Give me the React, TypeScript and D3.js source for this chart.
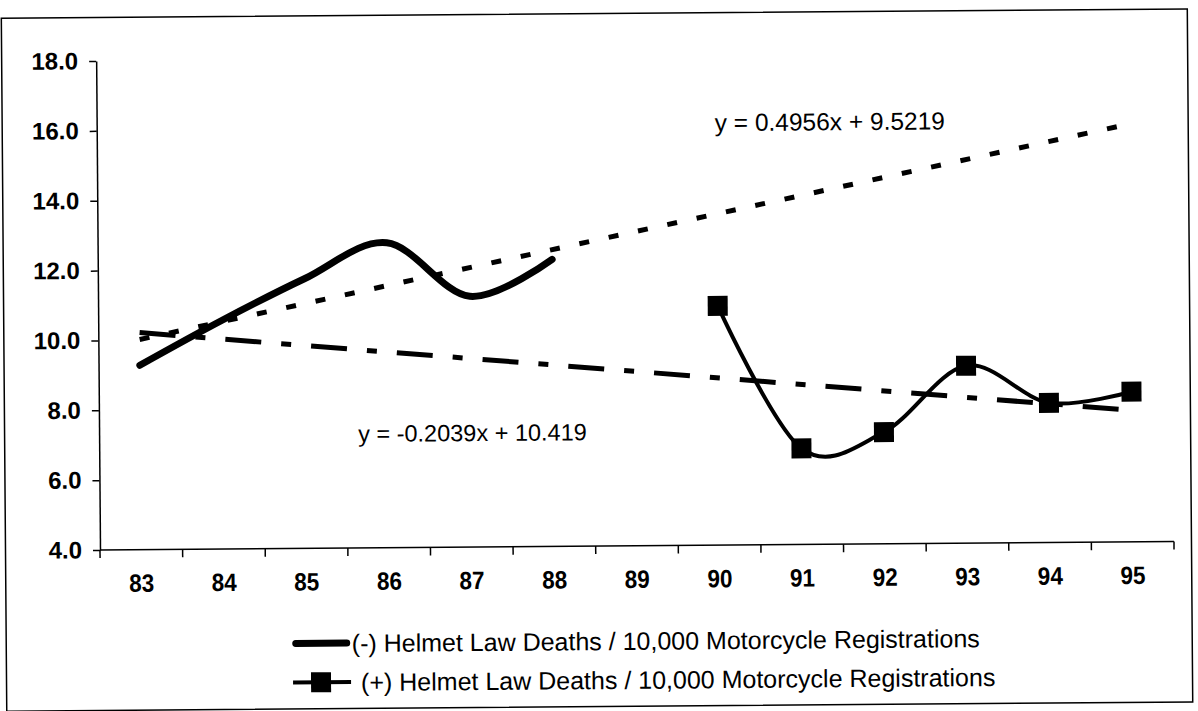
import React, { useEffect, useRef } from 'react';
import * as d3 from 'd3';

// categories (model years) and series values
const years = ['83', '84', '85', '86', '87', '88', '89', '90', '91', '92', '93', '94', '95'];
const noLawYears = ['83', '84', '85', '86', '87', '88'];
const noLawRate = [9.28, 10.55, 11.72, 12.73, 11.18, 12.22];
const lawYears = ['90', '91', '92', '93', '94', '95'];
const lawRate = [10.85, 6.75, 7.2, 9.08, 8.0, 8.3];
const yTicks = [4, 6, 8, 10, 12, 14, 16, 18];

// trendline equations printed on the chart (x = category index 1..13)
const noLawTrend = { slope: 0.4956, intercept: 9.5219 };
const lawTrend = { slope: -0.2039, intercept: 10.419 };
const noLawEq = 'y = 0.4956x + 9.5219';
const lawEq = 'y = -0.2039x + 10.419';

const legendLabels = [
  '(-) Helmet Law Deaths / 10,000 Motorcycle Registrations',
  '(+) Helmet Law Deaths / 10,000 Motorcycle Registrations',
];

const FONT = '"Liberation Sans", Arial, sans-serif';

export default function App() {
  const svgRef = useRef<SVGSVGElement>(null);

  useEffect(() => {
    const svg = d3.select(svgRef.current);
    svg.selectAll('*').remove();

    const width = 1198;
    const height = 711;
    const margin = { t: 61, r: 24, l: 100, b: 161 };

    svg.append('rect').attr('width', width).attr('height', height).attr('fill', '#fff');

    // the scanned page is slightly tilted
    const g = svg.append('g').attr('transform', 'rotate(-0.45 100 550)');

    g.append('rect')
      .attr('x', 5.5)
      .attr('y', 17.5)
      .attr('width', 1186)
      .attr('height', 693)
      .attr('fill', 'none')
      .attr('stroke', '#000')
      .attr('stroke-width', 1.5);

    const x = d3.scaleBand<string>().domain(years).range([margin.l, width - margin.r]);
    const y = d3.scaleLinear().domain([4, 18]).range([height - margin.b, margin.t]);
    const cx = (d: string) => (x(d) as number) + x.bandwidth() / 2;
    const y0 = y(4);

    // y axis
    const yAxis = d3
      .axisLeft(y)
      .tickValues(yTicks)
      .tickFormat(d3.format('.1f'))
      .tickSizeInner(7)
      .tickSizeOuter(0)
      .tickPadding(11);
    const yg = g.append('g').attr('transform', `translate(${margin.l},0)`).call(yAxis);
    yg.select('.domain').attr('stroke', '#000').attr('stroke-width', 1.5);
    yg.selectAll('.tick line').attr('stroke', '#000').attr('stroke-width', 1.5);
    yg.selectAll('.tick text')
      .attr('fill', '#000')
      .style('font-family', FONT)
      .style('font-size', '24px')
      .style('font-weight', 'bold');

    // x axis: ticks between categories
    const xg = g.append('g');
    xg.append('line')
      .attr('x1', x.range()[0])
      .attr('x2', x.range()[1])
      .attr('y1', y0)
      .attr('y2', y0)
      .attr('stroke', '#000')
      .attr('stroke-width', 1.5);
    const edges = years.map((d) => x(d) as number).concat([x.range()[1]]);
    xg.selectAll('line.tk')
      .data(edges)
      .enter()
      .append('line')
      .attr('class', 'tk')
      .attr('x1', (d) => d)
      .attr('x2', (d) => d)
      .attr('y1', y0)
      .attr('y2', y0 + 8)
      .attr('stroke', '#000')
      .attr('stroke-width', 1.5);
    // labels are a bit condensed in the original
    xg.selectAll('text')
      .data(years)
      .enter()
      .append('text')
      .attr('transform', (d) => `translate(${cx(d)},${y0 + 42}) scale(0.9,1)`)
      .attr('text-anchor', 'middle')
      .style('font-family', FONT)
      .style('font-size', '25px')
      .style('font-weight', 'bold')
      .text((d) => d);

    // trendlines
    const ends = [1, years.length];
    const trendX = (i: number) => cx(years[i - 1]);
    g.append('path')
      .attr('d', d3.line<number>().x(trendX).y((i) => y(noLawTrend.slope * i + noLawTrend.intercept))(ends))
      .attr('fill', 'none')
      .attr('stroke', '#000')
      .attr('stroke-width', 5)
      .attr('stroke-dasharray', '10,20');
    g.append('path')
      .attr('d', d3.line<number>().x(trendX).y((i) => y(lawTrend.slope * i + lawTrend.intercept))(ends))
      .attr('fill', 'none')
      .attr('stroke', '#000')
      .attr('stroke-width', 5)
      .attr('stroke-dasharray', '36,20,10,20');

    // series
    const noLawLine = d3
      .line<number>()
      .x((d, i) => cx(noLawYears[i]))
      .y((d) => y(d))
      .curve(d3.curveCardinal.tension(0));
    g.append('path')
      .attr('d', noLawLine(noLawRate))
      .attr('fill', 'none')
      .attr('stroke', '#000')
      .attr('stroke-width', 7)
      .attr('stroke-linecap', 'round');

    const lawLine = d3
      .line<number>()
      .x((d, i) => cx(lawYears[i]))
      .y((d) => y(d))
      .curve(d3.curveCardinal.tension(0));
    g.append('path')
      .attr('d', lawLine(lawRate))
      .attr('fill', 'none')
      .attr('stroke', '#000')
      .attr('stroke-width', 4);

    const sq = 20;
    g.selectAll('rect.pt')
      .data(lawRate)
      .enter()
      .append('rect')
      .attr('class', 'pt')
      .attr('x', (d, i) => cx(lawYears[i]) - sq / 2)
      .attr('y', (d) => y(d) - sq / 2)
      .attr('width', sq)
      .attr('height', sq)
      .attr('fill', '#000');

    // equation labels
    g.append('text')
      .attr('x', 718)
      .attr('y', 136)
      .style('font-family', FONT)
      .style('font-size', '24.5px')
      .text(noLawEq);
    g.append('text')
      .attr('x', 359)
      .attr('y', 444)
      .style('font-family', FONT)
      .style('font-size', '23.5px')
      .text(lawEq);

    // legend
    const lg = g.append('g');
    const rows = [645, 684];
    lg.append('line')
      .attr('x1', 295)
      .attr('x2', 346)
      .attr('y1', rows[0])
      .attr('y2', rows[0])
      .attr('stroke', '#000')
      .attr('stroke-width', 7)
      .attr('stroke-linecap', 'round');
    lg.append('line')
      .attr('x1', 292)
      .attr('x2', 350)
      .attr('y1', rows[1])
      .attr('y2', rows[1])
      .attr('stroke', '#000')
      .attr('stroke-width', 4);
    lg.append('rect')
      .attr('x', 320 - 10)
      .attr('y', rows[1] - 10)
      .attr('width', 20)
      .attr('height', 20)
      .attr('fill', '#000');
    lg.selectAll('text')
      .data(legendLabels)
      .enter()
      .append('text')
      .attr('x', (d, i) => (i === 0 ? 351 : 360))
      .attr('y', (d, i) => rows[i] + 9)
      .style('font-family', FONT)
      .style('font-size', '25px')
      .text((d) => d);
  }, []);

  return (
    <svg
      ref={svgRef}
      width="1198"
      height="711"
      style={{ position: 'absolute', left: 0, top: 0 }}
    />
  );
}
